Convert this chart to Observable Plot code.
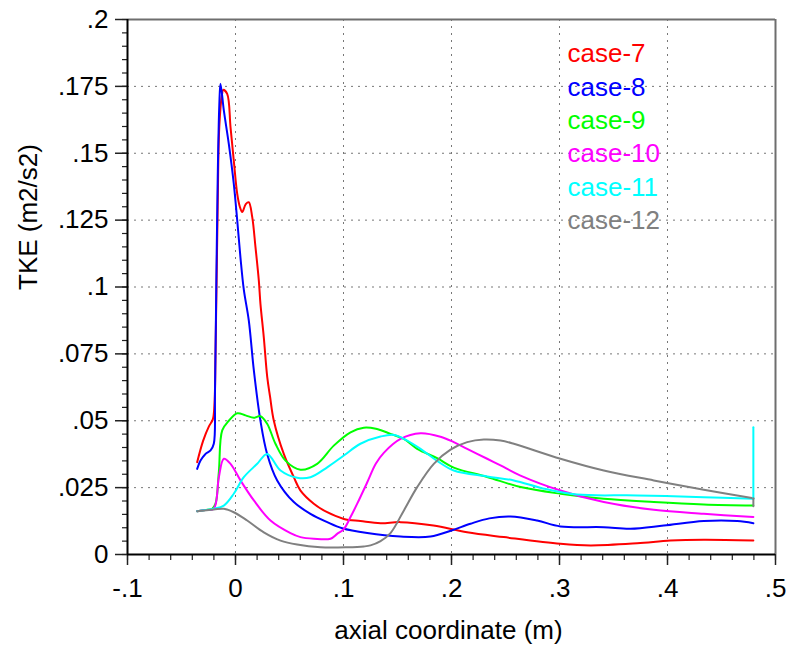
<!DOCTYPE html>
<html>
<head>
<meta charset="utf-8">
<script src="https://cdn.jsdelivr.net/npm/d3@7"></script>
<script src="https://cdn.jsdelivr.net/npm/@observablehq/plot@0.6"></script>
<style>
  html, body { margin: 0; padding: 0; background: #fff; }
</style>
</head>
<body>
<div id="chart"></div>
<script>
// ---- data ----
const cases = ["case-7", "case-8", "case-9", "case-10", "case-11", "case-12"];
const colors = ["#ff0000", "#0000ff", "#00ff00", "#ff00ff", "#00ffff", "#808080"];

const xTicks = [-0.1, 0, 0.1, 0.2, 0.3, 0.4, 0.5];
const xTickLabels = ["-.1", "0", ".1", ".2", ".3", ".4", ".5"];
const yTicks = [0, 0.025, 0.05, 0.075, 0.1, 0.125, 0.15, 0.175, 0.2];
const yTickLabels = ["0", ".025", ".05", ".075", ".1", ".125", ".15", ".175", ".2"];
const xMinor = d3.range(0, 31).map(i => Math.round((-0.1 + i * 0.02) * 1000) / 1000);
const yMinor = d3.range(0, 41).map(i => Math.round(i * 0.005 * 1000) / 1000);

const xTitle = "axial coordinate (m)";
const yTitle = "TKE (m2/s2)";

const case7 = [
  [-0.0355,0.0345],[-0.030,0.0425],[-0.0245,0.048],[-0.0210,0.0505],[-0.0195,0.056],[-0.0185,0.075],
  [-0.0165,0.13],[-0.0150,0.160],[-0.0125,0.172],[-0.0114,0.1737],[-0.0077,0.1722],[-0.0046,0.1597],
  [-0.0016,0.1473],[0.0016,0.1348],[0.0040,0.1300],[0.0062,0.128],[0.0095,0.1310],[0.0123,0.1317],
  [0.0155,0.1261],[0.0185,0.1149],[0.0216,0.1024],[0.0231,0.0937],[0.0262,0.0812],[0.0294,0.0663],
  [0.032,0.0590],[0.0355,0.0500],[0.0447,0.0376],[0.054,0.0289],[0.0602,0.0239],[0.0725,0.0190],
  [0.0849,0.0158],[0.1003,0.0133],[0.1157,0.0125],[0.1343,0.0117],[0.1528,0.0121],[0.1833,0.0108],
  [0.2145,0.0083],[0.2484,0.0065],[0.3009,0.004],[0.3287,0.0034],[0.3719,0.0042],[0.4028,0.0052],
  [0.4336,0.0055],[0.4795,0.0052]
];
const case8 = [
  [-0.0355,0.032],[-0.0324,0.0351],[-0.028,0.0375],[-0.0231,0.0389],[-0.0201,0.0414],[-0.0190,0.06],
  [-0.0178,0.10],[-0.0165,0.14],[-0.0150,0.168],[-0.0139,0.176],[-0.0108,0.166],[-0.0062,0.1535],
  [-0.0016,0.1386],[0.0016,0.1249],[0.0046,0.111],[0.0077,0.099],[0.0123,0.0875],[0.017,0.0688],
  [0.0231,0.0500],[0.0293,0.0376],[0.0386,0.0277],[0.054,0.0196],[0.0694,0.0152],[0.0849,0.0121],
  [0.0988,0.0098],[0.122,0.008],[0.1528,0.0067],[0.1806,0.0067],[0.200,0.009],[0.2176,0.0115],
  [0.2350,0.0135],[0.2546,0.0142],[0.2793,0.0127],[0.3009,0.0105],[0.341,0.0102],[0.3657,0.0096],
  [0.3966,0.0108],[0.4336,0.0125],[0.4645,0.0125],[0.4795,0.0117]
];
const case9 = [
  [-0.0355,0.0162],[-0.028,0.0166],[-0.0216,0.0171],[-0.0185,0.019],[-0.0154,0.0310],[-0.0123,0.0464],
  [-0.0062,0.0500],[0.0016,0.0528],[0.0093,0.0520],[0.017,0.0511],[0.0231,0.0517],[0.0293,0.0489],
  [0.037,0.0414],[0.0463,0.0351],[0.0602,0.0317],[0.0756,0.0339],[0.091,0.0407],[0.1065,0.0457],
  [0.1188,0.0474],[0.1300,0.0470],[0.1435,0.0451],[0.1558,0.0432],[0.1682,0.0395],[0.1867,0.0360],
  [0.2021,0.0325],[0.233,0.0290],[0.2639,0.0252],[0.3009,0.0227],[0.341,0.0208],[0.3873,0.0196],
  [0.4336,0.0187],[0.4795,0.0183]
];
const case10 = [
  [-0.0355,0.0162],[-0.028,0.0166],[-0.0201,0.0171],[-0.0154,0.0289],[-0.0108,0.0358],[-0.0046,0.0339],
  [0.0046,0.0277],[0.017,0.0202],[0.0324,0.0127],[0.0509,0.008],[0.0602,0.0065],[0.0725,0.0059],
  [0.088,0.0059],[0.0941,0.0077],[0.1003,0.0095],[0.1065,0.014],[0.1127,0.019],[0.122,0.027],
  [0.1300,0.034],[0.1373,0.038],[0.1528,0.0432],[0.1713,0.0453],[0.1898,0.0440],[0.2021,0.0420],
  [0.2145,0.0395],[0.233,0.0358],[0.2454,0.0333],[0.2639,0.0295],[0.3009,0.0239],[0.341,0.0196],
  [0.3873,0.0167],[0.4336,0.0152],[0.4795,0.014]
];
const case11 = [
  [-0.0355,0.0162],[-0.028,0.0166],[-0.0201,0.0171],[-0.0108,0.0183],[-0.0016,0.0227],[0.0077,0.0289],
  [0.0201,0.0339],[0.0293,0.0376],[0.0417,0.0314],[0.0571,0.0287],[0.0694,0.0289],[0.0849,0.0326],
  [0.1003,0.0370],[0.1157,0.0414],[0.1343,0.0441],[0.1470,0.0447],[0.159,0.0426],[0.1713,0.0395],
  [0.1867,0.0350],[0.2021,0.0314],[0.2330,0.0292],[0.2577,0.0277],[0.2855,0.0246],[0.3164,0.0224],
  [0.3719,0.0221],[0.4336,0.0214],[0.4795,0.0208]
];
const case12 = [
  [-0.0355,0.0162],[-0.0201,0.0168],[-0.0108,0.0171],[-0.0016,0.0158],[0.0108,0.0127],[0.0262,0.0083],
  [0.0417,0.0052],[0.0571,0.0037],[0.0787,0.0027],[0.1034,0.0027],[0.1188,0.003],[0.1250,0.0034],
  [0.1343,0.0050],[0.1435,0.008],[0.1558,0.0164],[0.1682,0.0252],[0.1836,0.0339],[0.1991,0.0392],
  [0.2145,0.042],[0.2299,0.043],[0.2454,0.0426],[0.2577,0.0414],[0.3009,0.0358],[0.341,0.0314],
  [0.3873,0.0277],[0.4336,0.0242],[0.4795,0.021]
];
// vertical jumps at the outlet end (drawn straight)
const case11End = [[0.4795,0.0208],[0.4795,0.0476]];
const case12End = [[0.4795,0.021],[0.4795,0.018]];

// ---- build tables ----
const series = [case7, case8, case9, case10, case11, case12];
const rows = [];
series.forEach((s, i) => s.forEach(([x, y]) => rows.push({case: cases[i], x, y})));
const endRows = [];
[[4, case11End], [5, case12End]].forEach(([i, s]) => s.forEach(([x, y]) => endRows.push({case: cases[i], x, y})));

const FONT = "'Liberation Sans', Arial, Helvetica, sans-serif";
const FS = 26;

const legendMarks = cases.map((c, i) =>
  Plot.text([c], {
    text: d => d,
    fill: colors[i],
    frameAnchor: "top-left",
    textAnchor: "start",
    lineAnchor: "middle",
    dx: 440,
    dy: 34.5 + i * 33.3,
    fontSize: FS
  })
);

const chart = Plot.plot({
  width: 792,
  height: 653,
  marginLeft: 127,
  marginRight: 17,
  marginTop: 19,
  marginBottom: 99,
  style: {fontFamily: FONT, fontSize: FS + "px", color: "#000", background: "#fff", overflow: "visible"},
  x: {domain: [-0.1, 0.5]},
  y: {domain: [0, 0.2]},
  color: {domain: cases, range: colors},
  marks: [
    Plot.gridX(xTicks.filter(d => d > -0.1 && d < 0.5), {stroke: "#777", strokeOpacity: 1, strokeWidth: 1, strokeDasharray: "2,5"}),
    Plot.gridY(yTicks.filter(d => d > 0 && d < 0.2), {stroke: "#777", strokeOpacity: 1, strokeWidth: 1, strokeDasharray: "2,5"}),
    Plot.axisX({ticks: xMinor, tickSize: 6, tickFormat: () => "", label: null, stroke: "#222", strokeWidth: 1.2}),
    Plot.axisY({ticks: yMinor, tickSize: 5, tickFormat: () => "", label: null, stroke: "#222", strokeWidth: 1.2}),
    Plot.axisX({ticks: xTicks, tickSize: 11, tickPadding: 13, tickFormat: d => xTickLabels[xTicks.indexOf(d)], label: null, stroke: "#222", strokeWidth: 1.5, fill: "#000"}),
    Plot.axisY({ticks: yTicks, tickSize: 12, tickPadding: 7, tickFormat: d => yTickLabels[yTicks.indexOf(d)], label: null, stroke: "#222", strokeWidth: 1.5, fill: "#000"}),
    Plot.ruleY([0.2], {stroke: "#6e6e6e", strokeWidth: 2}),
    Plot.ruleX([0.5], {stroke: "#6e6e6e", strokeWidth: 2}),
    Plot.line(rows, {x: "x", y: "y", z: "case", stroke: "case", strokeWidth: 2, curve: "catmull-rom"}),
    Plot.line(endRows, {x: "x", y: "y", z: "case", stroke: "case", strokeWidth: 2, curve: "linear"}),
    Plot.ruleY([0], {stroke: "#000", strokeWidth: 2}),
    Plot.ruleX([-0.1], {stroke: "#000", strokeWidth: 2}),
    Plot.text([xTitle], {text: d => d, frameAnchor: "bottom", lineAnchor: "middle", dx: -3, dy: 76, fontSize: FS, fill: "#000"}),
    Plot.text([yTitle], {text: d => d, frameAnchor: "left", lineAnchor: "middle", rotate: -90, dx: -99, dy: 3, fontSize: FS, fill: "#000"}),
    ...legendMarks
  ]
});

document.getElementById("chart").appendChild(chart);
</script>
</body>
</html>
